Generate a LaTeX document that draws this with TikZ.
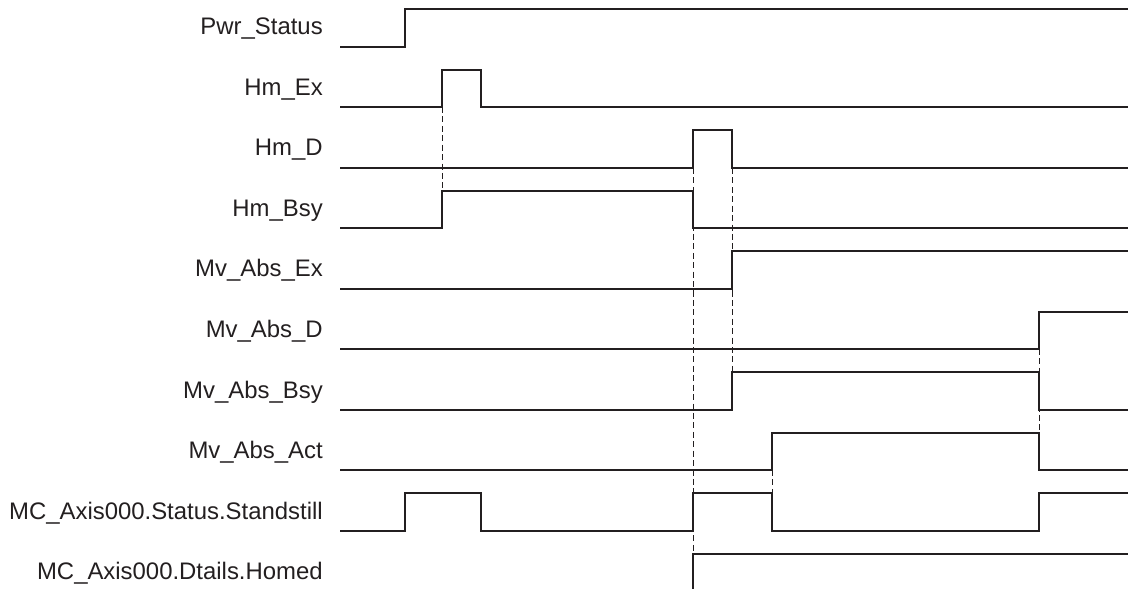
\documentclass[tikz,border=0pt]{standalone}
\usepackage{fontspec}
\setmainfont{Liberation Sans}
\usepackage{tikz}
\usetikzlibrary{positioning,calc}
\definecolor{ink}{HTML}{231F20}

\begin{document}
\begin{tikzpicture}[
        x=0.025cm, y=-0.025cm,
        every node/.style={font=\fontsize{17}{20}\selectfont, text=ink},
        signame/.style={anchor=base east, inner sep=0pt},
        wave/.style={draw=ink, line width=2pt, line join=miter},
        guide/.style={draw=ink, line width=0.7pt, dash pattern=on 4.3pt off 2.4pt}
        ]
        \useasboundingbox (0,0) rectangle (1128,589);

        % signal names
        \node[signame] (pwr) at (323,35) {Pwr\_Status};
        \node[signame] (hmex) at (323,95.5) {Hm\_Ex};
        \node[signame] (hmd) at (323,156) {Hm\_D};
        \node[signame] (hmbsy) at (323,216.5) {Hm\_Bsy};
        \node[signame] (mvex) at (323,277) {Mv\_Abs\_Ex};
        \node[signame] (mvd) at (323,337.5) {Mv\_Abs\_D};
        \node[signame] (mvbsy) at (323,398) {Mv\_Abs\_Bsy};
        \node[signame] (mvact) at (323,458.5) {Mv\_Abs\_Act};
        \node[signame] (still) at (323,519) {MC\_Axis000.Status.Standstill};
        \node[signame] (homed) at (323,579.5) {MC\_Axis000.Dtails.Homed};

        % guide lines
        \draw[guide] (442,107) -- (442,191);
        \draw[guide] (693,168) -- (693,554);
        \draw[guide] (732,168) -- (732,372);
        \draw[guide] (1039,349) -- (1039,433);
        \draw[guide] (772,470) -- (772,493);

        % waveforms
        \draw[wave] (340,47) -| (405,9) -- (1128,9);
        \draw[wave] (340,107) -| (442,70) -| (481,107) -- (1128,107);
        \draw[wave] (340,168) -| (693,130) -| (732,168) -- (1128,168);
        \draw[wave] (340,228) -| (442,191) -| (693,228) -- (1128,228);
        \draw[wave] (340,289) -| (732,251) -- (1128,251);
        \draw[wave] (340,349) -| (1039,312) -- (1128,312);
        \draw[wave] (340,410) -| (732,372) -| (1039,410) -- (1128,410);
        \draw[wave] (340,470) -| (772,433) -| (1039,470) -- (1128,470);
        \draw[wave] (340,531) -| (405,493) -| (481,531) -| (693,493) -| (772,531) -| (1039,493) -- (1128,493);
        \draw[wave] (693,589) |- (1128,554);

    \end{tikzpicture}
\end{document}
